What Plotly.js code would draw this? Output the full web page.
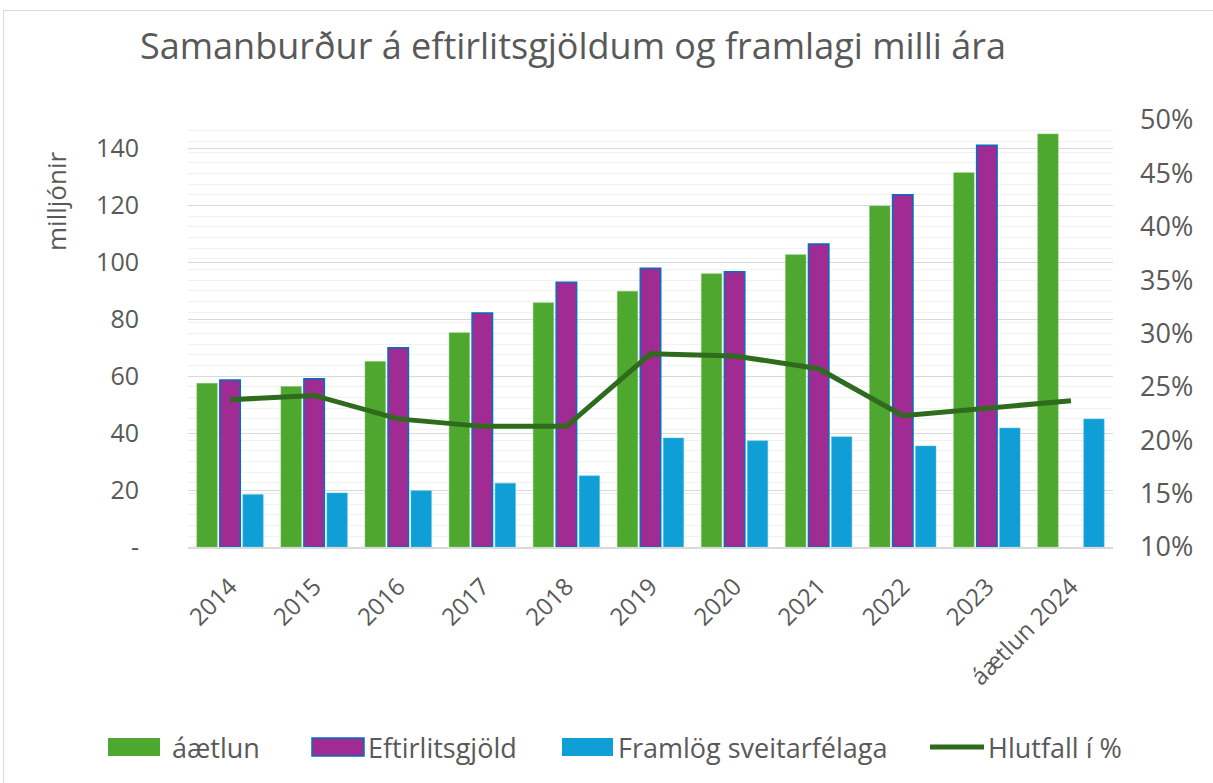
<!DOCTYPE html>
<html>
<head>
<meta charset="utf-8">
<script src="https://cdn.plot.ly/plotly-3.0.1.min.js"></script>
<style>
  html, body { margin: 0; padding: 0; background: #ffffff; }
  #frame { position: absolute; left: 3px; top: 10px; width: 1220px; height: 790px; border: 1px solid #d9d9d9; box-sizing: border-box; }
  #chart { position: absolute; left: 0; top: 0; width: 1213px; height: 783px; }
</style>
</head>
<body>
<div id="frame"></div>
<div id="chart"></div>
<script>
const categories = ["2014","2015","2016","2017","2018","2019","2020","2021","2022","2023","áætlun 2024"];
const aaetlun = [57.5, 56.4, 65.2, 75.3, 85.8, 89.8, 96.0, 102.7, 119.8, 131.5, 145.1];
const eftirlitsgjold = [58.7, 59.1, 70.0, 82.2, 93.0, 97.9, 96.7, 106.4, 123.7, 141.1, null];
const framlog = [18.4, 19.0, 19.8, 22.4, 25.0, 38.3, 37.3, 38.7, 35.5, 41.8, 45.0];
const hlutfall = [0.238, 0.242, 0.220, 0.213, 0.213, 0.281, 0.279, 0.267, 0.223, 0.230, 0.237];
const leftTickVals = [0, 20, 40, 60, 80, 100, 120, 140];
const leftTickText = ["-", "20", "40", "60", "80", "100", "120", "140"];
const seriesNames = ["áætlun", "Eftirlitsgjöld", "Framlög sveitarfélaga", "Hlutfall í %"];

const txt = '#595959';
const font = 'Open Sans, Noto Sans, sans-serif';
const colors = { green: '#4ea72e', purple: '#a02b93', blue: '#0f9ed5', line: '#2f6b1d', edge: '#0070c0' };

const W = 1213, H = 783;
const M = { l: 188, r: 100, t: 120, b: 236 };
const PW = W - M.l - M.r, PH = H - M.t - M.b;
const px = x => (x - M.l) / PW;
const py = y => (H - M.b - y) / PH;

const traces = [
  { type: 'bar', name: seriesNames[0], x: categories, y: aaetlun, showlegend: false,
    marker: { color: colors.green, line: { color: '#7cc25f', width: 0.5 } } },
  { type: 'bar', name: seriesNames[1], x: categories, y: eftirlitsgjold, showlegend: false,
    marker: { color: colors.purple, line: { color: colors.edge, width: 1.5 } } },
  { type: 'bar', name: seriesNames[2], x: categories, y: framlog, showlegend: false,
    marker: { color: colors.blue, line: { color: '#5bc0e8', width: 0.5 } } },
  { type: 'scatter', mode: 'lines', name: seriesNames[3], x: categories, y: hlutfall, yaxis: 'y2', showlegend: false,
    line: { color: colors.line, width: 5 } }
];

// legend drawn as shapes + annotations
const legY = 747;
const legendSwatches = [
  { kind: 'rect', x0: 108, x1: 160, fill: colors.green, edge: colors.green, tx: 170 },
  { kind: 'rect', x0: 312, x1: 364, fill: colors.purple, edge: colors.edge, tx: 366 },
  { kind: 'rect', x0: 562, x1: 613, fill: colors.blue, edge: colors.blue, tx: 616 },
  { kind: 'line', x0: 930, x1: 984, fill: colors.line, edge: colors.line, tx: 986 }
];
const shapes = [];
const annotations = [];
legendSwatches.forEach((s, i) => {
  if (s.kind === 'rect') {
    shapes.push({ type: 'rect', xref: 'paper', yref: 'paper', x0: px(s.x0), x1: px(s.x1), y0: py(legY + 9), y1: py(legY - 9),
                  fillcolor: s.fill, line: { color: s.edge, width: i === 1 ? 1.5 : 0 } });
  } else {
    shapes.push({ type: 'line', xref: 'paper', yref: 'paper', x0: px(s.x0), x1: px(s.x1), y0: py(legY), y1: py(legY),
                  line: { color: s.fill, width: 5 } });
  }
  annotations.push({ text: seriesNames[i], xref: 'paper', yref: 'paper', x: px(s.tx), y: py(legY),
                     xanchor: 'left', yanchor: 'middle', showarrow: false, font: { family: font, size: 27, color: txt } });
});
annotations.push({ text: 'milljónir', xref: 'paper', yref: 'paper', x: px(56), y: py(202),
  xanchor: 'center', yanchor: 'middle', textangle: -90, showarrow: false, font: { family: font, size: 26, color: txt } });

const layout = {
  width: W, height: H,
  paper_bgcolor: 'rgba(0,0,0,0)', plot_bgcolor: 'rgba(0,0,0,0)',
  margin: M,
  font: { family: font, color: txt, size: 24 },
  title: { text: 'Samanburður á eftirlitsgjöldum og framlagi milli ára', x: 140/W, xanchor: 'left', y: 1 - 46/H, yanchor: 'middle',
           font: { family: font, size: 36, color: txt } },
  barmode: 'group', bargap: 0.18, bargroupgap: 0.11,
  showlegend: false,
  xaxis: { type: 'category', tickangle: -45, showline: true, linecolor: '#d9d9d9', linewidth: 2,
           ticks: '', tickfont: { family: font, size: 24, color: txt }, showgrid: false, ticklabelstandoff: 14 },
  yaxis: { range: [0, 150], tickvals: leftTickVals, ticktext: leftTickText, showgrid: true,
           gridcolor: '#d9d9d9', gridwidth: 1, zeroline: false, ticks: '', ticklabelstandoff: 48,
           tickfont: { family: font, size: 25, color: txt } },
  yaxis2: { overlaying: 'y', side: 'right', range: [0.1, 0.5], dtick: 0.05, tickformat: '.0%',
            showgrid: true, gridcolor: '#f0f0f0', zeroline: false, ticks: '', ticklabelstandoff: 26,
            tickfont: { family: font, size: 27, color: txt },
            minor: { dtick: 0.01, showgrid: true, gridcolor: '#f2f2f2', ticks: '' } },
  shapes: shapes,
  annotations: annotations
};

Plotly.newPlot('chart', traces, layout, { displayModeBar: false, staticPlot: true });
</script>
</body>
</html>
